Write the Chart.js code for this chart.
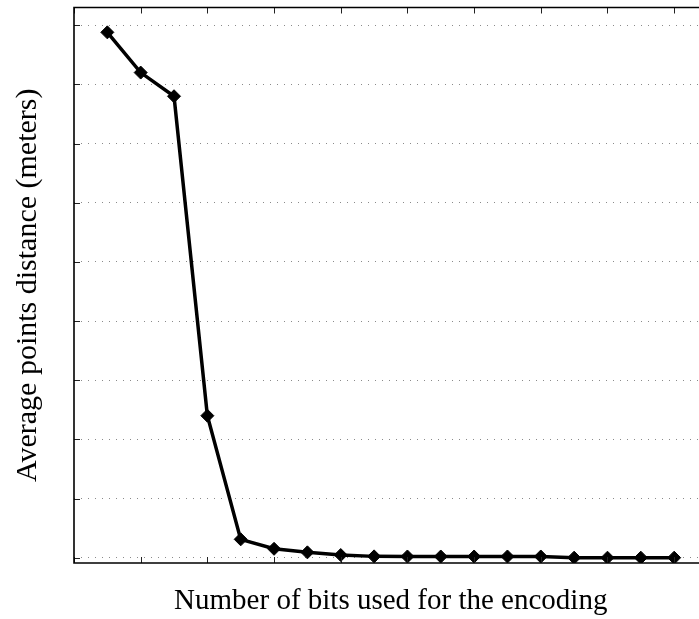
<!DOCTYPE html>
<html lang="en">
  <head>
    <meta charset="UTF-8" />
    <title>Bits vs. distance</title>
    <script src="https://cdn.jsdelivr.net/npm/chart.js"></script>
    <style>
      html,
      body {
        margin: 0;
        padding: 0;
        background: #fff;
        overflow: hidden;
      }
      .plot {
        width: 715px;
        height: 619px;
      }
    </style>
  </head>
  <body>
    <div class="plot">
      <canvas id="bitsChart" width="715" height="619"></canvas>
    </div>
    <script>
      // number of bits and the resulting mean point distance
      const bits = [1, 2, 3, 4, 5, 6, 7, 8, 9, 10, 11, 12, 13, 14, 15, 16, 17, 18];
      const distances = [
        8.88, 8.2, 7.8, 2.4, 0.31, 0.15, 0.09, 0.045, 0.022, 0.02, 0.02, 0.02,
        0.02, 0.02, 0.0, 0.0, 0.0, 0.0,
      ];
      const xTicks = [0, 2, 4, 6, 8, 10, 12, 14, 16, 18];
      const yTicks = [0, 1, 2, 3, 4, 5, 6, 7, 8, 9];

      const serif = "'Liberation Serif', 'Times New Roman', serif";

      // box around the axes with inward tick marks, matlab style
      const framePlugin = {
        id: "frame",
        afterDraw(chart) {
          const { ctx, chartArea: a, scales } = chart;
          const len = 6;
          ctx.save();
          ctx.strokeStyle = "#222";
          ctx.lineWidth = 1;
          ctx.beginPath();
          scales.x.ticks.forEach((t) => {
            const px = Math.round(scales.x.getPixelForValue(t.value)) + 0.5;
            ctx.moveTo(px, a.top);
            ctx.lineTo(px, a.top + len);
            ctx.moveTo(px, a.bottom);
            ctx.lineTo(px, a.bottom - len);
          });
          scales.y.ticks.forEach((t) => {
            const py = Math.round(scales.y.getPixelForValue(t.value)) + 0.5;
            ctx.moveTo(a.left, py);
            ctx.lineTo(a.left + len, py);
          });
          ctx.stroke();

          ctx.strokeStyle = "#000";
          ctx.lineWidth = 1.6;
          ctx.beginPath();
          ctx.moveTo(a.right, a.top);
          ctx.lineTo(a.left, a.top);
          ctx.lineTo(a.left, a.bottom);
          ctx.lineTo(a.right, a.bottom);
          ctx.stroke();
          ctx.restore();
        },
      };

      const ctx = document.getElementById("bitsChart").getContext("2d");
      new Chart(ctx, {
        type: "line",
        data: {
          datasets: [
            {
              data: bits.map((b, i) => ({ x: b, y: distances[i] })),
              borderColor: "#000",
              borderWidth: 3.5,
              tension: 0,
              pointStyle: "rectRot",
              pointRadius: 6.5,
              pointBorderWidth: 1,
              pointBackgroundColor: "#000",
              pointBorderColor: "#000",
            },
          ],
        },
        options: {
          responsive: false,
          animation: false,
          devicePixelRatio: 1,
          layout: { padding: { top: 6, left: 0, right: 0, bottom: 0 } },
          plugins: {
            legend: { display: false },
            tooltip: { enabled: false },
          },
          scales: {
            x: {
              type: "linear",
              min: 0,
              max: 19,
              afterBuildTicks: (s) => {
                s.ticks = xTicks.map((v) => ({ value: v }));
              },
              afterFit: (s) => {
                s.height = 56;
              },
              ticks: { display: false },
              grid: { display: false },
              border: { display: false },
              title: {
                display: true,
                text: "Number of bits used for the encoding",
                color: "#000",
                font: { family: serif, size: 29 },
                padding: { top: 0, bottom: 0 },
              },
            },
            y: {
              min: -0.09,
              max: 9.3,
              afterBuildTicks: (s) => {
                s.ticks = yTicks.map((v) => ({ value: v }));
              },
              afterFit: (s) => {
                s.width = 74;
              },
              ticks: { display: false },
              grid: {
                color: "#8a8a8a",
                lineWidth: 1,
                drawTicks: false,
              },
              border: { display: false, dash: [1, 6] },
              title: {
                display: true,
                text: "Average points distance (meters)",
                color: "#000",
                font: { family: serif, size: 30 },
                padding: { top: 10, bottom: 0 },
              },
            },
          },
        },
        plugins: [framePlugin],
      });
    </script>
  </body>
</html>
